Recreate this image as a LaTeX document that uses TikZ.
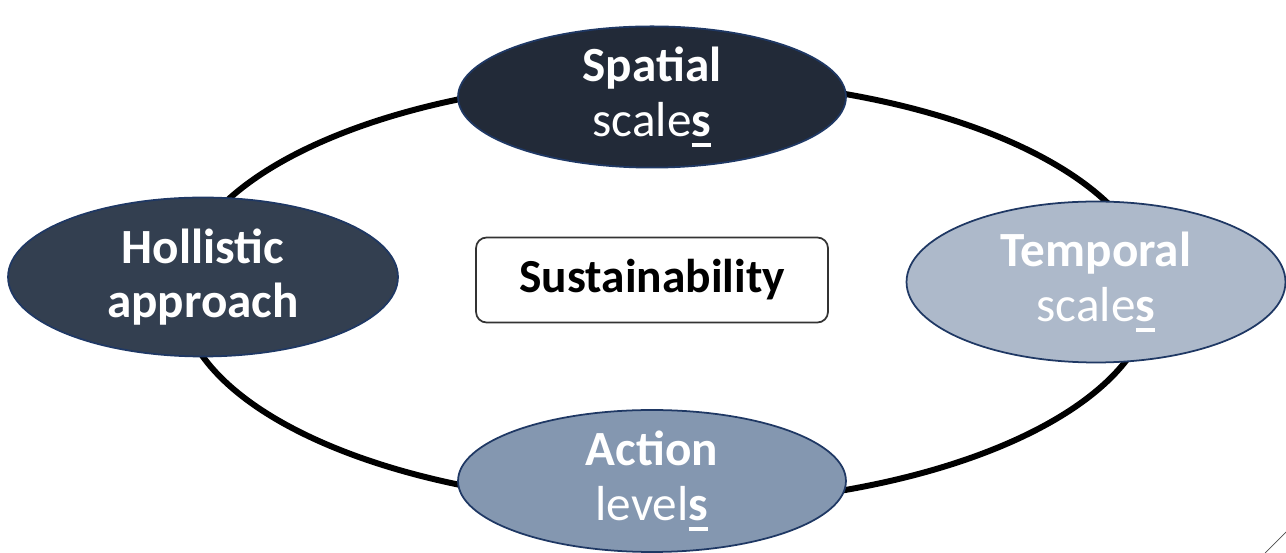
\documentclass[tikz,border=0pt]{standalone}
\usepackage{fontspec}
\setmainfont{Carlito}
\usetikzlibrary{shapes.geometric}
\definecolor{spatialfill}{RGB}{34,42,56}
\definecolor{holisticfill}{RGB}{51,63,80}
\definecolor{temporalfill}{RGB}{173,185,202}
\definecolor{actionfill}{RGB}{132,151,176}
\definecolor{rimblue}{RGB}{31,56,100}
\newsavebox\ulbox
\newcommand\uls[1]{\sbox\ulbox{\textbf{#1}}\rlap{\rule[-0.22em]{\wd\ulbox}{0.08em}}\usebox\ulbox}

\begin{document}
\begin{tikzpicture}[x=0.02cm,y=-0.02cm,
   topic/.style={draw=rimblue,line width=1pt,ellipse,inner sep=0pt,
     text=white,align=center,font=\fontsize{28}{31}\selectfont},
   core/.style={draw=black!80,line width=1pt,rounded corners=6pt,
     font=\fontsize{27}{30}\selectfont\bfseries}]
\useasboundingbox (0,0) rectangle (1286,553);
\draw[line width=3.4pt] (666,292) ellipse [x radius=9.72cm,y radius=4.26cm];
\node[topic,fill=spatialfill,minimum width=7.76cm,minimum height=2.78cm] (spatial) at (652,97)
   {\textbf{Spatial}\\scale\uls{s}};
\node[topic,fill=holisticfill,minimum width=7.8cm,minimum height=3.18cm] (holistic) at (203,277)
   {\textbf{Hollistic}\\\textbf{approach}};
\node[topic,fill=temporalfill,minimum width=7.58cm,minimum height=3.22cm] (temporal) at (1096,282)
   {\textbf{Temporal}\\scale\uls{s}};
\node[topic,fill=actionfill,minimum width=7.76cm,minimum height=2.84cm] (action) at (652,481)
   {\textbf{Action}\\level\uls{s}};
\node[core,minimum width=7.04cm,minimum height=1.7cm] (sust) at (652,280) {Sustainability};
\draw[black!70] (1265,553) -- (1286,532);
\end{tikzpicture}
\end{document}
